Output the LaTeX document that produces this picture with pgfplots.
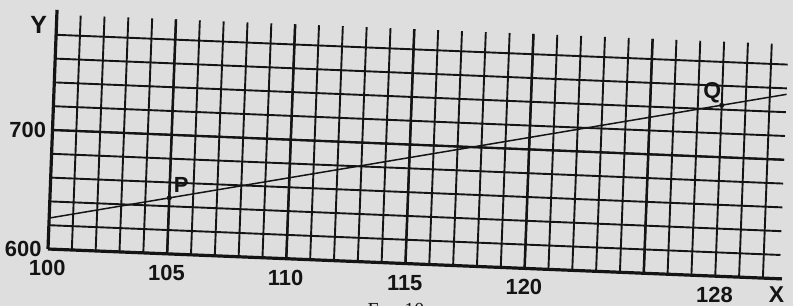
\documentclass[border=0pt]{standalone}
\usepackage{pgfplots}
\pgfplotsset{compat=1.18}
\usepackage{fontspec}
\setmainfont{Liberation Sans}
\newfontfamily\capfont{Liberation Serif}
\definecolor{bg}{HTML}{DEDEDE}
\definecolor{ink}{HTML}{141414}
\begin{document}
\begin{tikzpicture}
\begin{axis}[
  x={(23.83bp,-0.97bp)}, y={(0.045bp,1.19bp)},
  xmin=100, xmax=131, ymin=600, ymax=800,
  hide axis, clip=false,
]
\coordinate (O) at (axis cs:100,600);
\fill[bg] ([shift={(-48bp,-57bp)}]axis cs:100,600) rectangle ++(793bp,306bp);
% vertical grid lines
\pgfplotsinvokeforeach{101,...,130}{
  \draw[ink, line width=1.9bp] (axis cs:#1,600) -- (axis cs:#1,797);
}
\pgfplotsinvokeforeach{105,110,...,125}{
  \draw[ink, line width=2.5bp] (axis cs:#1,600) -- (axis cs:#1,797);
}
% horizontal grid lines
\pgfplotsinvokeforeach{620,640,...,780}{
  \draw[ink, line width=1.9bp] (axis cs:100,#1) -- (axis cs:130.7,#1);
}
\draw[ink, line width=2.3bp] (axis cs:100,700) -- (axis cs:130.7,700);
% axes
\draw[ink, line width=3.2bp] (axis cs:100,600) -- (axis cs:130.8,600);
\draw[ink, line width=3.2bp] (axis cs:100,600) -- (axis cs:100,801);
% data line
\addplot[ink, line width=1.5bp] coordinates {(100,626) (130.7,755)};
\addplot[only marks, mark=*, mark size=2.3bp, ink] coordinates {(105,647) (128,743.6)};
% labels
\node[ink, font=\bfseries\fontsize{22}{22}\selectfont] at (axis cs:100,584) {100};
\node[ink, font=\bfseries\fontsize{22}{22}\selectfont] at (axis cs:105,584) {105};
\node[ink, font=\bfseries\fontsize{22}{22}\selectfont] at (axis cs:110,584) {110};
\node[ink, font=\bfseries\fontsize{22}{22}\selectfont] at (axis cs:115,584) {115};
\node[ink, font=\bfseries\fontsize{22}{22}\selectfont] at (axis cs:120,584) {120};
\node[ink, font=\bfseries\fontsize{22}{22}\selectfont] at (axis cs:128,584) {128};
\node[ink, anchor=east, xshift=-3bp, font=\bfseries\fontsize{22}{22}\selectfont] at (axis cs:100,600) {600};
\node[ink, anchor=east, xshift=-3bp, font=\bfseries\fontsize{22}{22}\selectfont] at (axis cs:100,700) {700};
\node[ink, anchor=east, xshift=-6bp, yshift=-2bp, font=\bfseries\fontsize{25}{25}\selectfont] at (axis cs:100,790) {Y};
\node[ink, yshift=3bp, font=\bfseries\fontsize{23}{23}\selectfont] at (axis cs:130.6,584) {X};
\node[ink, anchor=south west, xshift=1bp, yshift=2bp, font=\bfseries\fontsize{22}{22}\selectfont] at (axis cs:105,647) {P};
\node[ink, anchor=south east, xshift=3bp, yshift=-1bp, font=\bfseries\fontsize{23}{23}\selectfont] at (axis cs:128,743.6) {Q};
\node[ink, anchor=north, font=\capfont\fontsize{20}{20}\selectfont] at ([shift={(348bp,-51bp)}]axis cs:100,600) {F{\fontsize{15}{15}\selectfont IG}. 10};
\end{axis}
\pgfresetboundingbox
\path (O) ++(-48bp,-57bp) rectangle ++(793bp,306bp);
\end{tikzpicture}
\end{document}
